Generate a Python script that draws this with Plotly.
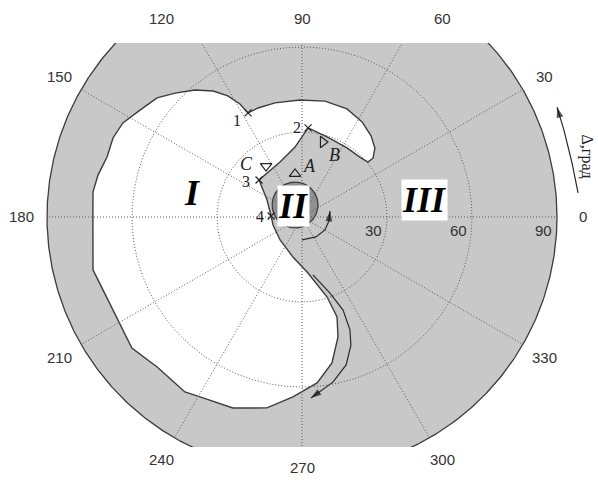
import numpy as np
import plotly.graph_objects as go

# ---- data (angles in degrees, radii in degrees of Δ) ----
R_MAX = 90
ring_radii = [30, 60]
spoke_angles = list(range(0, 360, 30))
angle_labels = [str(a) for a in spoke_angles]
radial_labels = ["30", "60", "90"]

# boundary of the stable region I
region1_theta = [178.2, 154.1, 139.3, 124.8, 111.8, 95.7, 89.3, 86.1, 72.6, 56.9,
                 46.0, 39.8, 39.7, 43.4, 49.6, 57.7, 67.4, 78.8, 91.0, 103.3,
                 112.0, 117.4, 118.8, 121.5, 125.2, 130.1, 135.7, 140.6, 146.6, 152.3,
                 157.3, 162.9, 168.4, 173.2, 179.7, 189.0, 194.2, 200.1, 209.2, 217.6,
                 226.0, 236.2, 241.3, 250.1, 259.6, 267.1, 275.2, 281.6, 286.7, 289.3,
                 287.4, 276.1, 257.3, 226.3, 195.4]
region1_r = [10.9, 13.7, 20.0, 19.8, 20.9, 24.8, 28.9, 31.5, 29.6, 29.1,
             29.4, 30.3, 32.6, 35.4, 37.6, 39.7, 41.3, 41.7, 41.3, 41.4,
             41.5, 41.4, 45.5, 50.1, 54.4, 58.6, 62.6, 66.2, 68.5, 71.4,
             72.3, 72.0, 73.5, 74.3, 73.8, 74.7, 76.1, 74.8, 74.4, 75.8,
             73.6, 74.3, 72.8, 71.7, 68.5, 63.6, 58.8, 52.6, 44.2, 37.4,
             29.6, 19.9, 14.5, 11.2, 10.6]

# region II (small circle)
region2_center_theta = 120.0
region2_center_r = 4.9
region2_radius = 8.1

# numbered boundary points 1..4
point_names = ["1", "2", "3", "4"]
point_theta = [117.4, 86.1, 139.3, 178.2]
point_r = [41.4, 31.5, 20.0, 10.9]

# triangle markers A, B, C
tri_names = ["A", "B", "C"]
tri_theta = [99.2, 74.4, 125.2]
tri_r = [15.4, 27.5, 22.0]
tri_symbols = ["triangle-up-open", "triangle-right-open", "triangle-down-open"]

# trajectory arrows
arrow1_theta = [270.0, 305.0, 330.5, 351.6, 12.1]
arrow1_r = [8.1, 8.6, 9.3, 9.6, 10.1]
arrow2_theta = [280.7, 290.2, 293.8, 293.0, 290.9, 286.6, 280.6, 275.2, 272.8]
arrow2_r = [20.8, 28.6, 35.9, 43.3, 48.4, 54.5, 59.3, 62.4, 64.0]
arrow3_theta = [5.0, 11.3, 18.4, 23.3]
arrow3_r = [97.8, 97.2, 97.4, 98.0]

# region labels
region_names = ["I", "II", "III"]
region_label_theta = [167.7, 129.3, 7.9]
region_label_r = [39.7, 5.0, 43.8]

axis_title = "Δ,град"
axis_title_theta = 12.0
axis_title_r = 102.8

# ---- styling ----
DISK_GRAY = "#c8c8c8"
DARK_GRAY = "#919191"
EDGE = "#3c3c3c"
GRID = "#5a5a5a"
INK = "#222222"
X_RANGE = [-106.59, 104.47]
Y_RANGE = [-81.18, 61.41]
LABEL_R = 1.1 * R_MAX
LABEL_Y_TOP = 70.0
LABEL_Y_BOTTOM = -88.5


def to_xy(theta, r):
    t = np.radians(np.asarray(theta, dtype=float))
    r = np.asarray(r, dtype=float)
    return r * np.cos(t), r * np.sin(t)


def y_to_paper(y):
    return (y - Y_RANGE[0]) / (Y_RANGE[1] - Y_RANGE[0])


fig = go.Figure()
full = np.linspace(0, 360, 721)

# outer disk
dx, dy = to_xy(full, np.full_like(full, R_MAX))
fig.add_trace(go.Scatter(x=dx, y=dy, mode="lines", fill="toself", fillcolor=DISK_GRAY,
                         line=dict(color=EDGE, width=1.3), hoverinfo="skip"))

# region I
x1, y1 = to_xy(region1_theta + region1_theta[:1], region1_r + region1_r[:1])
fig.add_trace(go.Scatter(x=x1, y=y1, mode="lines", fill="toself", fillcolor="white",
                         line=dict(color=EDGE, width=1.4), hoverinfo="skip"))

# region II
cx, cy = to_xy([region2_center_theta], [region2_center_r])
ct = np.radians(full)
fig.add_trace(go.Scatter(x=cx[0] + region2_radius * np.cos(ct),
                         y=cy[0] + region2_radius * np.sin(ct),
                         mode="lines", fill="toself", fillcolor=DARK_GRAY,
                         line=dict(color=EDGE, width=1.3), hoverinfo="skip"))

# dotted grid: rings and spokes
for rr in ring_radii:
    xx, yy = to_xy(full, np.full_like(full, rr))
    fig.add_trace(go.Scatter(x=xx, y=yy, mode="lines",
                             line=dict(color=GRID, width=1, dash="1px,2px"),
                             hoverinfo="skip"))
sx, sy = [], []
for a in spoke_angles:
    xx, yy = to_xy([a, a], [0, R_MAX])
    sx += list(xx) + [None]
    sy += list(yy) + [None]
fig.add_trace(go.Scatter(x=sx, y=sy, mode="lines",
                         line=dict(color=GRID, width=1, dash="1px,2px"), hoverinfo="skip"))

# arrows: curved shafts with oriented heads
for th, rr in [(arrow1_theta, arrow1_r), (arrow2_theta, arrow2_r), (arrow3_theta, arrow3_r)]:
    ax_, ay_ = to_xy(th, rr)
    fig.add_trace(go.Scatter(x=ax_, y=ay_, mode="lines",
                             line=dict(color="#2a2a2a", width=1.2), hoverinfo="skip"))
    fig.add_trace(go.Scatter(x=ax_[-2:], y=ay_[-2:], mode="markers",
                             marker=dict(symbol="arrow", size=[0, 11], angleref="previous",
                                         color="#111", line=dict(width=0)),
                             hoverinfo="skip"))

# numbered crosses
px_, py_ = to_xy(point_theta, point_r)
fig.add_trace(go.Scatter(x=px_, y=py_, mode="markers",
                         marker=dict(symbol="x-thin-open", size=7, color=INK,
                                     line=dict(color=INK, width=1.2)),
                         hoverinfo="skip"))

# triangles
tx, ty = to_xy(tri_theta, tri_r)
fig.add_trace(go.Scatter(x=tx, y=ty, mode="markers",
                         marker=dict(symbol=tri_symbols, size=10, color=INK,
                                     line=dict(color=INK, width=1.2)),
                         hoverinfo="skip"))

serif = "Liberation Serif, Times New Roman, serif"
sans = "Liberation Sans, Arial, sans-serif"

# point numbers
num_shift = [(-11, -8), (-11, 0), (-13, -1), (-11, 0)]
for i, name in enumerate(point_names):
    fig.add_annotation(x=px_[i], y=py_[i], text=name, showarrow=False,
                       xshift=num_shift[i][0], yshift=num_shift[i][1],
                       font=dict(family=serif, size=16, color=INK))

tri_shift = [(14, 8), (12, -13), (-20, 2)]
for i, name in enumerate(tri_names):
    fig.add_annotation(x=tx[i], y=ty[i], text=f"<i>{name}</i>", showarrow=False,
                       xshift=tri_shift[i][0], yshift=tri_shift[i][1],
                       font=dict(family=serif, size=18, color=INK))

# region labels
lbx, lby = to_xy(region_label_theta, region_label_r)
for i, name in enumerate(region_names):
    fig.add_annotation(x=lbx[i], y=lby[i], text=f"<b><i>{name}</i></b>", showarrow=False,
                       bgcolor="white" if i > 0 else None, borderpad=0,
                       font=dict(family=serif, size=36, color="black"))

# radial tick labels along 0°
for lab in radial_labels:
    fig.add_annotation(x=float(lab), y=0, text=lab, showarrow=False,
                       xanchor="right", yanchor="top", xshift=-3, yshift=-3,
                       font=dict(family=sans, size=15, color="#333"))

# angular tick labels
for a, lab in zip(spoke_angles, angle_labels):
    ax_, ay_ = to_xy([a], [LABEL_R])
    yv = float(np.clip(ay_[0], LABEL_Y_BOTTOM, LABEL_Y_TOP))
    fig.add_annotation(x=float(ax_[0]), y=y_to_paper(yv), xref="x", yref="paper",
                       xanchor="center", yanchor="middle",
                       text=lab, showarrow=False,
                       font=dict(family=sans, size=15, color="#333"))

# axis title
atx, aty = to_xy([axis_title_theta], [axis_title_r])
fig.add_annotation(x=float(atx[0]), y=float(aty[0]), text=axis_title, showarrow=False,
                   textangle=90, font=dict(family=serif, size=16, color=INK))

fig.update_layout(
    width=598, height=480, autosize=False,
    margin=dict(l=0, r=0, t=43, b=33),
    paper_bgcolor="white", plot_bgcolor="white",
    showlegend=False,
    xaxis=dict(range=X_RANGE, visible=False, fixedrange=True),
    yaxis=dict(range=Y_RANGE, visible=False, fixedrange=True),
)

fig.write_html("out.html")
